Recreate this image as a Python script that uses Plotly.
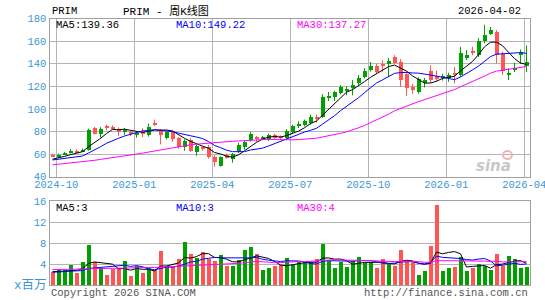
import numpy as np
import pandas as pd
import plotly.graph_objects as go

# ---------------- data ----------------
weeks = pd.date_range("2024-09-27", periods=80, freq="7D")

opens = [59.5, 57.8, 59.8, 61.2, 63.6, 62.5, 63.8, 83.2, 78.4, 84.0,
         84.7, 82.6, 80.2, 80.0, 77.0, 80.0, 77.5, 87.6, 81.8, 75.0,
         79.6, 74.3, 66.5, 73.3, 62.0, 65.5, 66.3, 57.5, 50.0, 59.6,
         56.2, 63.0, 66.5, 73.0, 74.5, 74.3, 73.0, 77.4, 75.2, 75.0,
         80.0, 85.5, 86.5, 88.0, 93.0, 93.3, 110.5, 111.0, 114.5, 116.8,
         119.0, 123.0, 128.8, 134.7, 138.5, 139.4, 140.5, 146.4, 142.3, 131.5,
         119.6, 115.5, 123.5, 134.4, 130.0, 128.2, 127.8, 131.9, 130.2, 145.8,
         151.0, 148.2, 160.9, 166.8, 168.3, 149.1, 130.6, 134.5, 148.0, 138.5]
highs = [60.5, 60.5, 61.8, 64.5, 64.0, 65.0, 82.5, 84.0, 83.8, 86.0,
         85.5, 83.5, 83.0, 81.0, 80.0, 83.0, 87.0, 90.5, 82.2, 80.0,
         81.0, 75.0, 73.0, 74.0, 68.5, 67.0, 68.0, 59.0, 58.0, 60.5,
         61.0, 70.0, 72.0, 79.5, 76.0, 76.0, 78.0, 78.0, 76.5, 82.0,
         86.0, 89.0, 90.5, 95.0, 95.0, 113.0, 115.0, 116.0, 121.0, 120.0,
         125.5, 130.0, 136.0, 141.5, 140.0, 143.0, 145.0, 147.5, 144.0, 133.0,
         122.0, 128.0, 127.5, 138.5, 134.0, 131.0, 132.0, 137.0, 155.0, 152.0,
         155.0, 162.5, 174.5, 172.5, 169.7, 150.6, 136.0, 141.0, 152.5, 156.0]
lows = [57.5, 57.0, 59.2, 60.5, 61.5, 61.8, 63.0, 77.5, 74.6, 81.0,
        82.0, 76.0, 77.0, 76.0, 74.5, 75.0, 75.5, 85.0, 68.6, 73.0,
        71.0, 64.7, 63.0, 62.0, 58.5, 63.0, 56.0, 48.8, 49.0, 56.0,
        52.4, 61.0, 64.0, 71.0, 71.0, 72.5, 71.5, 73.0, 73.0, 72.4,
        78.0, 83.0, 84.5, 86.0, 88.0, 92.0, 107.0, 107.0, 113.0, 112.0,
        112.0, 121.0, 127.0, 133.0, 131.0, 133.0, 128.0, 140.0, 119.5, 111.5,
        113.5, 113.5, 119.0, 123.0, 124.5, 125.0, 124.0, 122.5, 128.5, 143.2,
        147.5, 146.0, 158.0, 165.5, 140.3, 130.0, 125.5, 132.5, 140.0, 132.6]
closes = [58.5, 59.8, 61.2, 63.2, 62.2, 64.2, 81.8, 78.3, 83.0, 83.6,
          82.8, 79.8, 81.2, 77.8, 78.8, 78.5, 84.6, 87.0, 77.0, 79.6,
          74.0, 67.0, 72.3, 63.5, 67.5, 65.0, 57.8, 53.2, 57.5, 57.3,
          60.5, 68.5, 71.0, 78.0, 74.0, 74.8, 77.0, 74.5, 74.8, 81.0,
          85.0, 86.3, 89.4, 93.5, 92.3, 111.0, 111.3, 115.0, 119.4, 117.3,
          122.0, 128.0, 134.0, 138.5, 133.0, 138.5, 143.0, 141.0, 126.0, 119.0,
          117.0, 126.5, 125.7, 126.2, 127.0, 129.5, 130.2, 131.3, 150.0, 148.0,
          150.3, 160.5, 165.8, 170.4, 148.4, 134.4, 132.3, 137.0, 150.9, 142.2]
volumes = [2.55, 2.8, 2.8, 3.9, 2.2, 4.3, 7.55, 4.3, 3.3, 2.0,
           3.0, 3.2, 4.5, 1.65, 3.7, 2.2, 3.2, 2.9, 6.4, 3.7,
           3.4, 4.9, 8.1, 5.85, 5.1, 6.2, 4.9, 4.5, 5.7, 3.6,
           3.7, 4.8, 6.6, 7.15, 5.85, 2.8, 3.2, 3.7, 3.8, 5.1,
           3.9, 4.3, 4.4, 4.3, 5.0, 7.9, 4.5, 3.2, 4.4, 3.4,
           4.5, 5.4, 4.1, 4.4, 3.2, 5.0, 4.1, 3.7, 6.6, 4.5,
           4.3, 2.0, 2.7, 7.5, 15.2, 2.6, 3.3, 3.5, 5.4, 2.6,
           3.2, 4.0, 3.7, 2.8, 6.0, 3.7, 5.6, 5.0, 3.2, 3.5]

# moving-average values before a full window exists
ma5_head = [55.5, 56.5, 58.0, 59.5]
ma10_head = [54.8, 55.5, 56.3, 57.0, 57.5, 58.3, 61.0, 63.5, 66.5]
ma30_head = [50.5, 51.0, 51.5, 52.0, 52.5, 53.0, 53.7, 54.5, 55.3, 56.0,
             56.8, 57.6, 58.4, 59.2, 60.0, 60.8, 61.8, 62.8, 63.8, 64.8,
             65.8, 66.8, 67.5, 68.2, 68.8, 69.3, 69.7, 70.0, 70.2]
vma5_head = [2.6, 2.6, 2.7, 2.8]
vma10_head = [2.5, 2.5, 2.6, 2.7, 2.7, 2.8, 3.2, 3.3, 3.4]
vma30_head = [3.0, 3.0, 3.0, 3.05, 3.05, 3.1, 3.15, 3.2, 3.2, 3.2,
              3.25, 3.25, 3.3, 3.3, 3.35, 3.35, 3.4, 3.4, 3.45, 3.5,
              3.55, 3.6, 3.7, 3.75, 3.8, 3.85, 3.9, 3.95, 4.0]

month_labels = ["2024-10", "2025-01", "2025-04", "2025-07", "2025-10", "2026-01", "2026-04"]
price_ticks = [40, 60, 80, 100, 120, 140, 160, 180]
vol_ticks = [0, 4, 8, 12, 16]
vol_ticktext = ["<span style='font-size:12.5px'>x百万</span>", "4", "8", "12", "16"]

# ---------------- derived ----------------
W, H = 545, 300
o = np.array(opens); h = np.array(highs); l = np.array(lows); c = np.array(closes)
v = np.array(volumes)
n = len(c)
xi = np.arange(n)
up = c >= o
GREEN, RED = "#00a000", "#ff5555"
cols = [GREEN if u else RED for u in up]


def ma(series, win, head):
    s = pd.Series(series).rolling(win).mean().to_numpy()
    s[:win - 1] = head
    return s


ma5, ma10, ma30 = ma(c, 5, ma5_head), ma(c, 10, ma10_head), ma(c, 30, ma30_head)
vma5, vma10, vma30 = ma(v, 5, vma5_head), ma(v, 10, vma10_head), ma(v, 30, vma30_head)

# month-start tick positions (grid drawn at left edge of the first candle of the month)
tick_pos, tick_txt = [], []
for i in range(n):
    lab = weeks[i].strftime("%Y-%m")
    if lab in month_labels and (i == 0 or weeks[i - 1].strftime("%Y-%m") != lab):
        tick_pos.append(i - 0.37)
        tick_txt.append(lab)

px = lambda x: x / W
py = lambda y: 1 - y / H

fig = go.Figure()

# wicks
for flag, col in ((True, GREEN), (False, RED)):
    wx, wy = [], []
    for i in xi[up == flag]:
        wx += [i, i, None]
        wy += [l[i], h[i], None]
    fig.add_trace(go.Scatter(x=wx, y=wy, mode="lines", line=dict(color=col, width=1),
                             xaxis="x", yaxis="y", hoverinfo="skip", showlegend=False))

# bodies
fig.add_trace(go.Bar(x=xi, y=np.maximum(np.abs(c - o), 0.9), base=np.minimum(o, c),
                     width=0.72, marker=dict(color=cols, line=dict(width=0)),
                     xaxis="x", yaxis="y", showlegend=False))

for arr, col in ((ma5, "#000000"), (ma10, "#0000ff"), (ma30, "#ff00ff")):
    fig.add_trace(go.Scatter(x=xi, y=arr, mode="lines", line=dict(color=col, width=1),
                             xaxis="x", yaxis="y", showlegend=False))

# volume
fig.add_trace(go.Bar(x=xi, y=v, width=0.8, marker=dict(color=cols, line=dict(width=0)),
                     xaxis="x2", yaxis="y2", showlegend=False))
for arr, col in ((vma5, "#000000"), (vma10, "#0000ff"), (vma30, "#ff00ff")):
    fig.add_trace(go.Scatter(x=xi, y=arr, mode="lines", line=dict(color=col, width=1),
                             xaxis="x2", yaxis="y2", showlegend=False))

TICKC = "#3a96d8"
GRID = "#b4b4b4"
BOX = "#a0a0a0"
mono = "Liberation Mono, DejaVu Sans Mono, monospace"
xdom = [px(49.5), px(529.5)]

fig.update_layout(
    width=W, height=H, margin=dict(l=0, r=0, t=0, b=0, pad=0), autosize=False,
    paper_bgcolor="white", plot_bgcolor="white", barmode="overlay", bargap=0,
    xaxis=dict(domain=xdom, range=[-0.5, n - 0.5], anchor="y", tickvals=tick_pos, ticktext=tick_txt,
               showgrid=True, gridcolor=GRID, gridwidth=1, zeroline=False, automargin=False,
               showline=True, mirror=True, linecolor=BOX, linewidth=1, ticks="",
               ticklabeloverflow="allow", ticklabelstandoff=-2,
               tickfont=dict(family=mono, size=10.5, color=TICKC)),
    yaxis=dict(domain=[py(176.7), py(18.5)], range=[40, 180], tickvals=price_ticks,
               showgrid=True, gridcolor=GRID, zeroline=False, anchor="x", automargin=False,
               showline=True, mirror=True, linecolor=BOX, linewidth=1, ticks="",
               ticklabeloverflow="allow",
               tickfont=dict(family=mono, size=10.5, color=TICKC)),
    xaxis2=dict(domain=xdom, range=[-0.5, n - 0.5], anchor="y2", showticklabels=False,
                showgrid=False, zeroline=False, showline=True, mirror=True, automargin=False,
                linecolor=BOX, linewidth=1, ticks=""),
    yaxis2=dict(domain=[py(285.3), py(201.3)], range=[0, 16], tickvals=vol_ticks,
                ticktext=vol_ticktext, anchor="x2", automargin=False,
                showgrid=True, gridcolor=GRID, zeroline=False,
                showline=True, mirror=True, linecolor=BOX, linewidth=1, ticks="",
                ticklabeloverflow="allow",
                tickfont=dict(family=mono + ", Noto Sans CJK SC", size=10.5, color=TICKC)),
)


def txt(s, x, y, col="#000000", anchor="left", size=10.5, fam=mono):
    fig.add_annotation(text=s, x=px(x), y=py(y), xref="paper", yref="paper",
                       xanchor=anchor, yanchor="middle", showarrow=False,
                       font=dict(family=fam, size=size, color=col))


txt("PRIM", 50, 11)
txt("PRIM - 周K线图", 121, 11, size=11, fam=mono + ", Noto Sans CJK SC")
txt("2026-04-02", 523, 11, anchor="right")
txt("MA5:139.36", 54, 25)
txt("MA10:149.22", 174, 25, col="#0000ff")
txt("MA30:137.27", 295, 25, col="#ff00ff")
txt("MA5:3", 54, 207.5)
txt("MA10:3", 174, 207.5, col="#0000ff")
txt("MA30:4", 295, 207.5, col="#ff00ff")
txt("Copyright 2026 SINA.COM", 49, 293, col="#555555")
txt("http://finance.sina.com.cn", 530, 293, col="#555555", anchor="right")
# faint sina watermark
fig.add_shape(type="circle", xref="paper", yref="paper",
              x0=px(503), x1=px(512), y0=py(159), y1=py(151),
              line=dict(color="#f3b0b0", width=2))
fig.add_annotation(text="<b><i>sina</i></b>", x=px(513), y=py(166), xref="paper", yref="paper",
                   showarrow=False, font=dict(family="DejaVu Sans", size=15, color="#c8c8c8"))

fig.write_html("out.html")
